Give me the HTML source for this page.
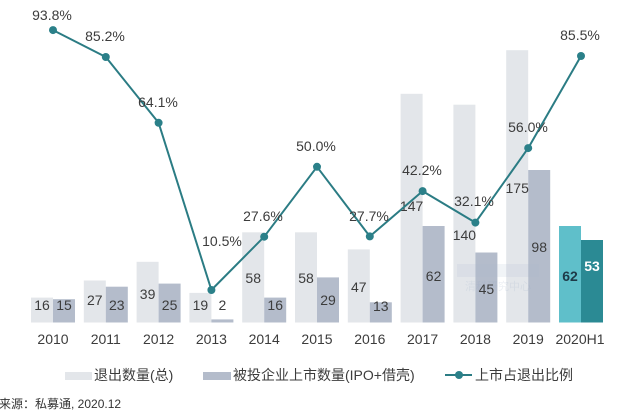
<!DOCTYPE html>
<html><head><meta charset="utf-8"><style>
html,body{margin:0;padding:0;background:#fff;}
svg{display:block;font-family:"Liberation Sans","Noto Sans CJK SC",sans-serif;}
</style></head><body>
<svg width="640" height="416" viewBox="0 0 640 416" xmlns="http://www.w3.org/2000/svg">
<rect width="640" height="416" fill="#fff"/>
<!-- light bars -->
<g fill="#e3e6ea">
<rect x="31" y="297.6" width="22" height="24.9"/>
<rect x="83.8" y="280.5" width="22" height="42"/>
<rect x="136.6" y="261.8" width="22" height="60.7"/>
<rect x="189.4" y="292.9" width="22" height="29.6"/>
<rect x="242.2" y="232.3" width="22" height="90.2"/>
<rect x="295" y="232.3" width="22" height="90.2"/>
<rect x="347.8" y="249.4" width="22" height="73.1"/>
<rect x="400.6" y="93.8" width="22" height="228.7"/>
<rect x="453.4" y="104.7" width="22" height="217.8"/>
<rect x="506.2" y="50.2" width="22" height="272.3"/>
</g>
<g fill="#b4bccb">
<rect x="53" y="299.2" width="22" height="23.3"/>
<rect x="105.8" y="286.7" width="22" height="35.8"/>
<rect x="158.6" y="283.6" width="22" height="38.9"/>
<rect x="211.4" y="319.4" width="22" height="3.1"/>
<rect x="264.2" y="297.6" width="22" height="24.9"/>
<rect x="317" y="277.4" width="22" height="45.1"/>
<rect x="369.8" y="302.3" width="22" height="20.2"/>
<rect x="422.6" y="226" width="22" height="96.5"/>
<rect x="475.4" y="252.5" width="22" height="70"/>
<rect x="528.2" y="170" width="22" height="152.5"/>
</g>
<rect x="559" y="226" width="22" height="96.5" fill="#5fbfca"/>
<rect x="581" y="240" width="22" height="82.5" fill="#2b8a94"/>

<!-- faint watermark -->
<g opacity="0.15" font-size="11" fill="#8aa0c0" text-anchor="middle">
<rect x="457" y="264" width="82" height="13" fill="#a9b8d0"/>
<text x="498" y="290">清科研究中心</text>
</g>

<!-- bar value labels -->
<g font-size="14" fill="#3c3c3c" text-anchor="middle">
<text x="42" y="310">16</text><text x="64" y="310">15</text>
<text x="94.8" y="305">27</text><text x="116.8" y="310">23</text>
<text x="147.6" y="299">39</text><text x="169.6" y="310">25</text>
<text x="200.4" y="310">19</text><text x="222.4" y="310">2</text>
<text x="253.2" y="283">58</text><text x="275.2" y="310">16</text>
<text x="306" y="283">58</text><text x="328" y="305">29</text>
<text x="358.8" y="292">47</text><text x="380.8" y="311">13</text>
<text x="411.6" y="211">147</text><text x="433.6" y="281">62</text>
<text x="464.4" y="240">140</text><text x="486.4" y="294">45</text>
<text x="517.2" y="193">175</text><text x="539.2" y="252">98</text>
<text x="570" y="281" fill="#1e3a48" font-weight="bold">62</text>
<text x="592" y="271" fill="#ffffff" font-weight="bold">53</text>
</g>

<!-- line -->
<polyline fill="none" stroke="#2b7c84" stroke-width="2" stroke-linejoin="round"
points="53,30.1 105.8,57 158.6,122.8 211.4,290 264.2,236.7 317,166.8 369.8,236.4 422.6,191.1 475.4,222.6 528.2,148.1 581,56"/>
<g fill="#2b8089">
<circle cx="53" cy="30.1" r="4"/><circle cx="105.8" cy="57" r="4"/><circle cx="158.6" cy="122.8" r="4"/>
<circle cx="211.4" cy="290" r="4"/><circle cx="264.2" cy="236.7" r="4"/><circle cx="317" cy="166.8" r="4"/>
<circle cx="369.8" cy="236.4" r="4"/><circle cx="422.6" cy="191.1" r="4"/><circle cx="475.4" cy="222.6" r="4"/>
<circle cx="528.2" cy="148.1" r="4"/><circle cx="581" cy="56" r="4"/>
</g>

<!-- percent labels -->
<g font-size="14" fill="#3c3c3c" text-anchor="middle">
<text x="52" y="20">93.8%</text>
<text x="105" y="41">85.2%</text>
<text x="158" y="107">64.1%</text>
<text x="222" y="246">10.5%</text>
<text x="263" y="221">27.6%</text>
<text x="316" y="151">50.0%</text>
<text x="369" y="221">27.7%</text>
<text x="422" y="175">42.2%</text>
<text x="474" y="206">32.1%</text>
<text x="528" y="132">56.0%</text>
<text x="580" y="40">85.5%</text>
</g>

<!-- x labels -->
<g font-size="14" fill="#3c3c3c" text-anchor="middle">
<text x="53" y="344">2010</text>
<text x="105.8" y="344">2011</text>
<text x="158.6" y="344">2012</text>
<text x="211.4" y="344">2013</text>
<text x="264.2" y="344">2014</text>
<text x="317" y="344">2015</text>
<text x="369.8" y="344">2016</text>
<text x="422.6" y="344">2017</text>
<text x="475.4" y="344">2018</text>
<text x="528.2" y="344">2019</text>
<text x="580" y="344">2020H1</text>
</g>

<!-- legend -->
<rect x="65" y="372" width="27" height="8" fill="#e3e6ea"/>
<text x="94" y="380" font-size="14" fill="#3c3c3c">退出数量(总)</text>
<rect x="203" y="372" width="28" height="8" fill="#b4bccb"/>
<text x="233" y="380" font-size="14" fill="#3c3c3c">被投企业上市数量(IPO+借壳)</text>
<line x1="445" y1="375" x2="472" y2="375" stroke="#2b7c84" stroke-width="2"/>
<circle cx="459" cy="375" r="4" fill="#2b8089"/>
<text x="475" y="380" font-size="14" fill="#3c3c3c">上市占退出比例</text>

<!-- source -->
<text x="-1" y="408" font-size="12" fill="#333">来源：私募通, 2020.12</text>
</svg>
</body></html>
